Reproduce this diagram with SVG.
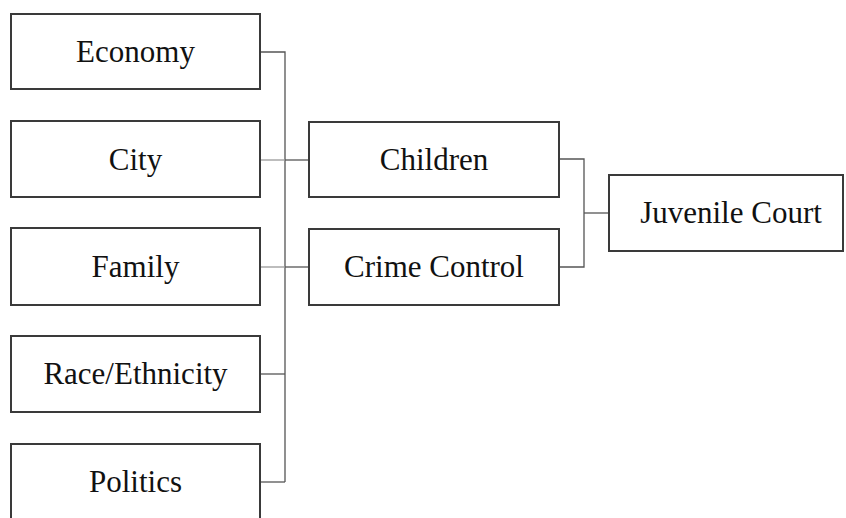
<svg xmlns="http://www.w3.org/2000/svg" width="846" height="518" viewBox="0 0 846 518">
<style>
.box{fill:#fff;stroke:#3a3a3a;stroke-width:2}
.lbl{font-family:"Liberation Serif","Times New Roman",serif;font-size:31px;fill:#111;text-anchor:middle}
.c{fill:none;stroke:#555;stroke-width:1.3}
.cl{fill:none;stroke:#999;stroke-width:1.3}
</style>
<rect width="846" height="518" fill="#fff"/>
<g id="connectors">
<path class="c" d="M260,52H285V482"/>
<path class="cl" d="M260,160H285"/>
<path class="c" d="M285,160H309"/>
<path class="cl" d="M260,267H285"/>
<path class="c" d="M285,267H309"/>
<path class="c" d="M260,374H285"/>
<path class="c" d="M260,482H285"/>
<path class="c" d="M559,159H584V267H559"/>
<path class="c" d="M584,213H609"/>
</g>
<g id="economy"><rect class="box" x="11" y="14" width="249" height="75"/><text class="lbl" x="135.5" y="62">Economy</text></g>
<g id="city"><rect class="box" x="11" y="121" width="249" height="76"/><text class="lbl" x="135.5" y="170">City</text></g>
<g id="family"><rect class="box" x="11" y="228" width="249" height="77"/><text class="lbl" x="135.5" y="277">Family</text></g>
<g id="race"><rect class="box" x="11" y="336" width="249" height="76"/><text class="lbl" x="135.5" y="384">Race/Ethnicity</text></g>
<g id="politics"><rect class="box" x="11" y="444" width="249" height="80"/><text class="lbl" x="135.5" y="492">Politics</text></g>
<g id="children"><rect class="box" x="309" y="122" width="250" height="75"/><text class="lbl" x="434" y="170">Children</text></g>
<g id="crime"><rect class="box" x="309" y="229" width="250" height="76"/><text class="lbl" x="434" y="277">Crime Control</text></g>
<g id="juvenile"><rect class="box" x="609" y="175" width="234" height="76"/><text class="lbl" x="731" y="223">Juvenile Court</text></g>
</svg>
